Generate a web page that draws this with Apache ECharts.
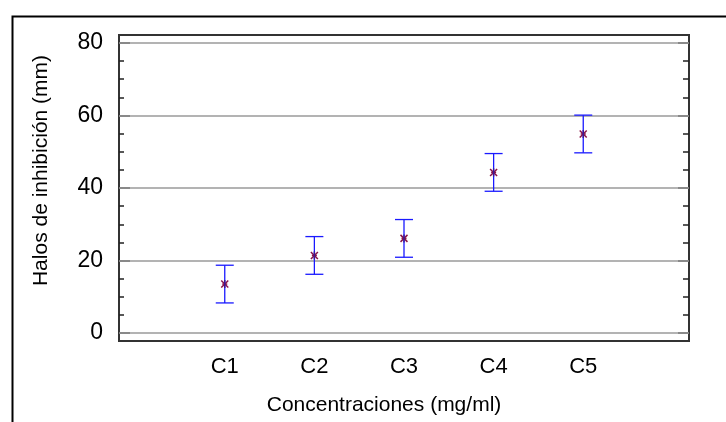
<!DOCTYPE html>
<html>
<head>
<meta charset="utf-8">
<script src="https://cdn.jsdelivr.net/npm/echarts@6/dist/echarts.min.js"></script>
<style>html,body{margin:0;padding:0;background:#fff;}#c{width:726px;height:422px;}</style>
</head>
<body>
<div id="c"></div>
<script>
var categories = ['C1', 'C2', 'C3', 'C4', 'C5'];
var means = [13.5, 21.4, 26.1, 44.3, 54.9];
var lower = [8.3, 16.2, 20.9, 39.1, 49.7];
var upper = [18.7, 26.6, 31.3, 49.5, 60.1];
var majorTicks = [0, 20, 40, 60, 80];
var minorTicks = [5, 10, 15, 25, 30, 35, 45, 50, 55, 65, 70, 75];
var xPositions = [1, 2, 3, 4, 5];

var FONT = "'Liberation Sans', Arial, sans-serif";
var chart = echarts.init(document.getElementById('c'), null, {renderer: 'canvas'});

var yBase = {
  type: 'value', min: -2.2, max: 82.2, offset: 0,
  axisLine: {show: true, onZero: false, lineStyle: {color: '#333', width: 2}},
  splitLine: {show: false}
};
function yAx(pos, ticks, len, labels) {
  return Object.assign({}, yBase, {
    position: pos,
    axisTick: {show: true, inside: true, length: len, customValues: ticks, lineStyle: {color: '#222', width: 1.5}},
    axisLabel: labels ? {show: true, customValues: majorTicks, fontFamily: FONT, fontSize: 23, color: '#000', margin: 16} : {show: false}
  });
}

var data = categories.map(function (c, i) {
  return [xPositions[i], means[i], lower[i], upper[i]];
});

var option = {
  animation: false,
  backgroundColor: '#fff',
  grid: {left: 119, right: 37, top: 35, bottom: 81, show: true, borderColor: '#333', borderWidth: 2, containLabel: false},
  xAxis: {
    type: 'value', min: -0.18, max: 6.18,
    axisLine: {show: true, onZero: false, lineStyle: {color: '#333', width: 2}},
    axisTick: {show: false},
    splitLine: {show: false},
    axisLabel: {
      customValues: xPositions, fontFamily: FONT, fontSize: 22, color: '#000', margin: 15,
      formatter: function (v) { return categories[Math.round(v) - 1] || ''; }
    },
    name: 'Concentraciones (mg/ml)', nameLocation: 'middle', nameGap: 54,
    nameTextStyle: {fontFamily: FONT, fontSize: 21, color: '#000', padding: [0, 40, 0, 0]}
  },
  yAxis: [
    Object.assign(yAx('left', majorTicks, 11, true), {
      name: 'Halos de inhibición (mm)', nameLocation: 'middle', nameGap: 67,
      nameTextStyle: {fontFamily: FONT, fontSize: 21, color: '#000', padding: [0, 0, 0, 35]}
    }),
    yAx('left', minorTicks, 5, false),
    yAx('right', majorTicks, 11, false),
    yAx('right', minorTicks, 6, false)
  ],
  graphic: [{
    type: 'rect', left: 10, top: 14, z: 100, silent: true,
    shape: {x: 0, y: 0, width: 740, height: 440},
    style: {fill: 'none', stroke: '#000', lineWidth: 2}
  }],
  series: [
    {
      type: 'line', data: [], yAxisIndex: 0, silent: true,
      markLine: {
        silent: true, symbol: 'none', label: {show: false},
        lineStyle: {color: '#9a9a9a', width: 1.5, type: 'solid'},
        data: majorTicks.map(function (v) { return {yAxis: v}; })
      }
    },
    {
      type: 'custom', yAxisIndex: 0, data: data, z: 5,
      renderItem: function (params, api) {
        var x = api.value(0);
        var c = api.coord([x, api.value(1)]);
        var lo = api.coord([x, api.value(2)]);
        var hi = api.coord([x, api.value(3)]);
        var cw = 9, m = 3.5;
        var blue = {stroke: '#1a1aff', lineWidth: 1.3};
        var red = {stroke: '#8a1448', lineWidth: 1.5};
        return {
          type: 'group',
          children: [
            {type: 'line', shape: {x1: c[0], y1: lo[1], x2: c[0], y2: hi[1]}, style: blue},
            {type: 'line', shape: {x1: c[0] - cw, y1: lo[1], x2: c[0] + cw, y2: lo[1]}, style: blue},
            {type: 'line', shape: {x1: c[0] - cw, y1: hi[1], x2: c[0] + cw, y2: hi[1]}, style: blue},
            {type: 'line', shape: {x1: c[0] - m, y1: c[1] - m, x2: c[0] + m, y2: c[1] + m}, style: red},
            {type: 'line', shape: {x1: c[0] - m, y1: c[1] + m, x2: c[0] + m, y2: c[1] - m}, style: red},
            {type: 'line', shape: {x1: c[0] - 2.5, y1: c[1], x2: c[0] + 2.5, y2: c[1]}, style: red},
            {type: 'line', shape: {x1: c[0], y1: c[1] - 4, x2: c[0], y2: c[1] + 4}, style: {stroke: '#3a1a9a', lineWidth: 1.5}}
          ]
        };
      }
    }
  ]
};
chart.setOption(option);
</script>
</body>
</html>
